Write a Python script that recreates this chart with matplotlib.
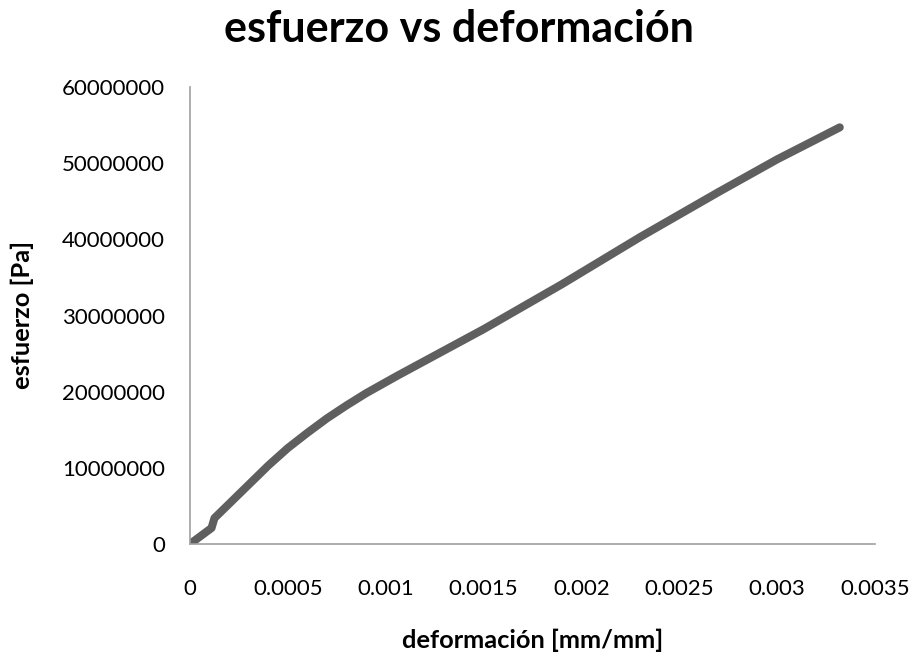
import matplotlib
matplotlib.use("Agg")
import matplotlib.pyplot as plt
from matplotlib.ticker import MultipleLocator, FuncFormatter

plt.rcParams['font.family'] = ['Lato', 'DejaVu Sans']

# strain [mm/mm] and stress [Pa]
deformacion = [0, 0.00011, 0.000125, 0.00040, 0.00050, 0.00060, 0.00070,
               0.00080, 0.00090, 0.00106, 0.0015, 0.0019, 0.0023, 0.0027,
               0.0030, 0.00332]
esfuerzo = [0, 2.1e6, 3.4e6, 10.3e6, 12.6e6, 14.6e6, 16.5e6,
            18.2e6, 19.8e6, 22.1e6, 28.2e6, 34.1e6, 40.3e6, 46.2e6,
            50.5e6, 54.7e6]

fig = plt.figure(figsize=(9.19, 6.57), dpi=100)
ax = fig.add_axes([190 / 919, 1 - 544 / 657, 685 / 919, 457 / 657])

ax.plot(deformacion, esfuerzo, color='#5f5f5f', lw=5.8,
        solid_capstyle='round', solid_joinstyle='round')

ax.set_xlim(0, 0.0035)
ax.set_ylim(0, 60000000)
ax.xaxis.set_major_locator(MultipleLocator(0.0005))
ax.yaxis.set_major_locator(MultipleLocator(10000000))
ax.xaxis.set_major_formatter(FuncFormatter(lambda v, p: '%g' % round(v, 6)))
ax.yaxis.set_major_formatter(FuncFormatter(lambda v, p: '%d' % round(v)))

for s in ['top', 'right']:
    ax.spines[s].set_visible(False)
for s in ['left', 'bottom']:
    ax.spines[s].set_color('#a0a0a0')
    ax.spines[s].set_linewidth(1.2)

ax.tick_params(length=0, labelsize=16, colors='black')
ax.tick_params(axis='x', pad=25)
ax.tick_params(axis='y', pad=18)

# titles placed in figure coordinates like the Excel chart
fig.text(459 / 919, 1 - 42 / 657, 'esfuerzo vs deformación', fontsize=31,
         fontweight='bold', ha='center', va='baseline')
fig.text(533 / 919, 1 - 640 / 657, 'deformación [mm/mm]', fontsize=18.3,
         fontweight='bold', ha='center', va='center')
fig.text(22 / 919, 1 - 315 / 657, 'esfuerzo [Pa]', fontsize=18.3,
         fontweight='bold', ha='center', va='center', rotation=90)

fig.savefig('out.png', dpi=100)
